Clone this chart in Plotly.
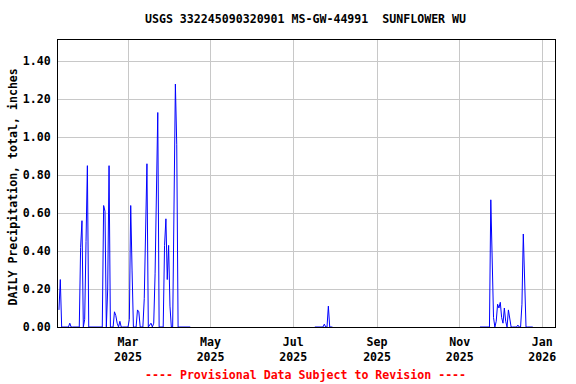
import pandas as pd
import plotly.graph_objects as go

# Observation periods (daily values, zero unless listed below)
segment_starts = ["2025-01-09", "2025-07-17", "2025-11-16"]
segment_ends = ["2025-04-16", "2025-07-30", "2025-12-25"]

# Days with measurable precipitation (inches)
rain_dates = [
    "2025-01-09", "2025-01-10", "2025-01-17",
    "2025-01-25", "2025-01-26", "2025-01-28", "2025-01-29", "2025-01-30",
    "2025-02-11", "2025-02-12", "2025-02-14", "2025-02-15",
    "2025-02-19", "2025-02-20", "2025-02-21", "2025-02-23",
    "2025-03-02", "2025-03-03", "2025-03-04", "2025-03-08", "2025-03-09",
    "2025-03-13", "2025-03-14", "2025-03-15",
    "2025-03-17", "2025-03-18", "2025-03-20",
    "2025-03-21", "2025-03-22", "2025-03-23",
    "2025-03-28", "2025-03-29", "2025-03-30", "2025-03-31", "2025-04-01",
    "2025-04-04", "2025-04-05", "2025-04-06",
    "2025-07-24", "2025-07-27",
    "2025-11-24", "2025-11-25", "2025-11-26", "2025-11-28", "2025-11-29",
    "2025-11-30", "2025-12-01", "2025-12-02", "2025-12-03", "2025-12-04",
    "2025-12-05", "2025-12-07", "2025-12-08", "2025-12-14",
    "2025-12-17", "2025-12-18", "2025-12-19",
]
rain_values = [
    0.09, 0.25, 0.02,
    0.42, 0.56, 0.04, 0.45, 0.85,
    0.64, 0.61, 0.20, 0.85,
    0.08, 0.06, 0.02, 0.03,
    0.04, 0.64, 0.30, 0.09, 0.08,
    0.15, 0.44, 0.86,
    0.01, 0.02, 0.02,
    0.28, 0.85, 1.13,
    0.43, 0.57, 0.25, 0.43, 0.11,
    0.64, 1.28, 0.96,
    0.015, 0.11,
    0.67, 0.37, 0.05, 0.03, 0.12,
    0.10, 0.13, 0.05, 0.02, 0.10,
    0.03, 0.09, 0.05, 0.01,
    0.12, 0.49, 0.24,
]

tick_dates = ["2025-03-01", "2025-05-01", "2025-07-01", "2025-09-01", "2025-11-01", "2026-01-01"]
tick_labels = ["Mar<br>2025", "May<br>2025", "Jul<br>2025", "Sep<br>2025", "Nov<br>2025", "Jan<br>2026"]
y_ticks = [0.0, 0.2, 0.4, 0.6, 0.8, 1.0, 1.2, 1.4]

rain = dict(zip(pd.to_datetime(rain_dates), rain_values))
xs, ys = [], []
for s, e in zip(segment_starts, segment_ends):
    for d in pd.date_range(s, e, freq="D"):
        xs.append(d)
        ys.append(rain.get(d, 0.0))
    xs.append(pd.Timestamp(e) + pd.Timedelta(hours=12))
    ys.append(None)

FONT = "DejaVu Sans Mono"
FS = 11.6

fig = go.Figure(
    go.Scatter(
        x=xs, y=ys, mode="lines",
        line=dict(color="#0000ff", width=1),
        connectgaps=False, hoverinfo="skip",
    )
)

fig.update_layout(
    width=576, height=384,
    margin=dict(l=58, r=21, t=40, b=57, autoexpand=False),
    paper_bgcolor="white", plot_bgcolor="white",
    showlegend=False,
    font=dict(family=FONT, size=FS, color="black", weight="bold"),
    title=dict(
        text="USGS 332245090320901 MS-GW-44991\u00a0\u00a0SUNFLOWER WU",
        x=305.5 / 576, xanchor="center", y=1 - 19 / 384, yanchor="middle",
        font=dict(family=FONT, size=FS, color="black", weight="bold"),
    ),
    xaxis=dict(
        type="date", automargin=False,
        range=["2025-01-08 07:00", "2026-01-10 10:00"],
        tickvals=pd.to_datetime(tick_dates), ticktext=tick_labels,
        showgrid=True, gridcolor="#c8c8c8", gridwidth=1,
        showline=True, linecolor="black", linewidth=1, mirror=True,
        ticks="", ticklabelstandoff=4,
        zeroline=False,
    ),
    yaxis=dict(
        range=[0, 1.512], automargin=False,
        tickvals=y_ticks, tickformat=".2f",
        showgrid=True, gridcolor="#c8c8c8", gridwidth=1,
        showline=True, linecolor="black", linewidth=1, mirror=True,
        ticks="", ticklabelstandoff=4,
        zeroline=False,
    ),
    annotations=[
        dict(
            text="DAILY Precipitation, total, inches",
            xref="paper", yref="paper",
            x=(12 - 58) / 497, y=(327 - 187.5) / 287,
            xanchor="center", yanchor="middle", textangle=-90, showarrow=False,
            font=dict(family=FONT, size=FS, color="black", weight="bold"),
        ),
        dict(
            text="---- Provisional Data Subject to Revision ----",
            xref="paper", yref="paper", x=(305 - 58) / 497, y=-(375 - 327) / 287,
            xanchor="center", yanchor="middle", showarrow=False,
            font=dict(family=FONT, size=FS, color="red", weight="bold"),
        ),
    ],
)

fig.write_html(
    "out.html",
    config={"displayModeBar": False},
    post_script="document.body.style.margin='0';document.body.style.padding='0';",
)
